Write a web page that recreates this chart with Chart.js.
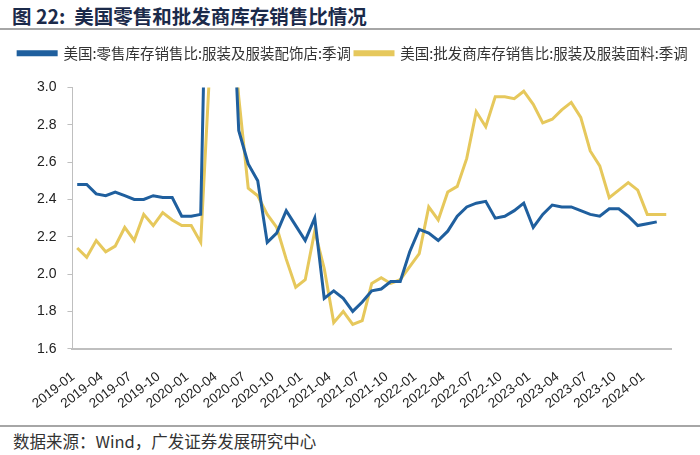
<!DOCTYPE html>
<html>
<head>
<meta charset="utf-8">
<script src="https://cdn.jsdelivr.net/npm/chart.js@4"></script>
<style>
  body { margin: 0; width: 700px; height: 455px; background: #fff; position: relative; overflow: hidden; }
  #title {
    position: absolute; left: 12px; top: 1px;
    font: bold 19.5px "Noto Sans CJK SC", sans-serif; color: #1b2a4a;
  }
  #topLine { position: absolute; left: 0; top: 28px; width: 700px; height: 2px; background: #a6a6a6; }
  #chartBox { position: absolute; left: 0; top: 32px; width: 700px; height: 390px; }
  #bottomLine { position: absolute; left: 0; top: 425px; width: 700px; height: 2px; background: #a6a6a6; }
  #source {
    position: absolute; left: 13px; top: 429px;
    font: 16.5px "Noto Sans CJK SC", sans-serif; color: #333;
  }
</style>
</head>
<body>
<div id="title">图 22:&nbsp; 美国零售和批发商库存销售比情况</div>
<div id="topLine"></div>
<div id="chartBox"><canvas id="chart"></canvas></div>
<div id="bottomLine"></div>
<div id="source">数据来源：Wind，广发证券发展研究中心</div>

<script>
  // Monthly, 2019-01 .. 2024-03
  const months = [
    "2019-01","2019-02","2019-03","2019-04","2019-05","2019-06","2019-07","2019-08","2019-09","2019-10","2019-11","2019-12",
    "2020-01","2020-02","2020-03","2020-04","2020-05","2020-06","2020-07","2020-08","2020-09","2020-10","2020-11","2020-12",
    "2021-01","2021-02","2021-03","2021-04","2021-05","2021-06","2021-07","2021-08","2021-09","2021-10","2021-11","2021-12",
    "2022-01","2022-02","2022-03","2022-04","2022-05","2022-06","2022-07","2022-08","2022-09","2022-10","2022-11","2022-12",
    "2023-01","2023-02","2023-03","2023-04","2023-05","2023-06","2023-07","2023-08","2023-09","2023-10","2023-11","2023-12",
    "2024-01","2024-02","2024-03"
  ];

  // 美国:零售库存销售比:服装及服装配饰店:季调
  const retailRatio = [
    2.48, 2.48, 2.43, 2.42, 2.44, 2.42, 2.40, 2.40, 2.42, 2.41, 2.41, 2.31,
    2.31, 2.32, 4.70, 12.0, 3.90, 2.77, 2.59, 2.50, 2.17, 2.22, 2.34, 2.26,
    2.18, 2.30, 1.87, 1.91, 1.87, 1.80, 1.85, 1.91, 1.92, 1.96, 1.96, 2.12,
    2.24, 2.22, 2.18, 2.23, 2.31, 2.36, 2.38, 2.39, 2.30, 2.31, 2.34, 2.38,
    2.25, 2.32, 2.37, 2.36, 2.36, 2.34, 2.32, 2.31, 2.35, 2.35, 2.31, 2.26,
    2.27, 2.28, null
  ];

  // 美国:批发商库存销售比:服装及服装面料:季调
  const wholesaleRatio = [
    2.14, 2.09, 2.18, 2.12, 2.15, 2.25, 2.18, 2.32, 2.26, 2.33, 2.29, 2.26,
    2.26, 2.17, 3.15, 4.50, 3.60, 2.95, 2.46, 2.42, 2.32, 2.25, 2.08, 1.93,
    1.97, 2.23, 2.03, 1.74, 1.80, 1.73, 1.75, 1.95, 1.98, 1.95, 1.97, 2.04,
    2.11, 2.36, 2.29, 2.44, 2.47, 2.62, 2.87, 2.79, 2.95, 2.95, 2.94, 2.98,
    2.91, 2.81, 2.83, 2.88, 2.92, 2.84, 2.66, 2.58, 2.41, 2.45, 2.49, 2.45,
    2.32, 2.32, 2.32
  ];

  const yTicks = [1.6, 1.8, 2.0, 2.2, 2.4, 2.6, 2.8, 3.0];

  const axisColor = "#bfbfbf";
  const numFont = "'Liberation Sans', Arial, sans-serif";

  // extra room between the legend and the plot
  const legendGap = {
    id: "legendGap",
    beforeInit(chart) {
      const fit = chart.legend.fit;
      chart.legend.fit = function () {
        fit.bind(chart.legend)();
        this.height += 17;
      };
    },
  };

  new Chart(document.getElementById("chart"), {
    type: "line",
    data: {
      labels: months,
      datasets: [
        {
          label: "美国:零售库存销售比:服装及服装配饰店:季调",
          data: retailRatio,
          borderColor: "#1f5f9e",
          backgroundColor: "#1f5f9e",
          borderWidth: 3,
          pointRadius: 0,
          tension: 0,
        },
        {
          label: "美国:批发商库存销售比:服装及服装面料:季调",
          data: wholesaleRatio,
          borderColor: "#e6c85c",
          backgroundColor: "#e6c85c",
          borderWidth: 3,
          pointRadius: 0,
          tension: 0,
        },
      ],
    },
    options: {
      responsive: true,
      maintainAspectRatio: false,
      animation: false,
      layout: { padding: { left: 6, right: 0, top: 10, bottom: 0 } },
      plugins: {
        legend: {
          display: true,
          position: "top",
          labels: {
            boxWidth: 38,
            boxHeight: 3,
            padding: 4,
            color: "#333",
            font: { family: "'Noto Sans CJK SC', sans-serif", size: 14.5 },
          },
        },
        tooltip: { enabled: false },
      },
      scales: {
        x: {
          type: "category",
          offset: true,
          grid: { display: false },
          border: { display: true, color: axisColor, width: 2 },
          afterFit: function (axis) {
            axis.height -= 2;
          },
          ticks: {
            autoSkip: false,
            maxRotation: 38,
            minRotation: 38,
            padding: 12,
            labelOffset: -4,
            color: "#222",
            font: { family: numFont, size: 13.5 },
            callback: function (value, index) {
              return index % 3 === 0 ? months[index] : null;
            },
          },
        },
        y: {
          min: 1.6,
          max: 3.0,
          afterBuildTicks: function (axis) {
            axis.ticks = yTicks.map((v) => ({ value: v }));
          },
          afterFit: function (axis) {
            axis.width += 20;
          },
          grid: {
            drawOnChartArea: false,
            drawTicks: true,
            tickLength: 5,
            color: axisColor,
          },
          border: { display: true, color: axisColor, width: 1 },
          ticks: {
            color: "#222",
            font: { family: numFont, size: 14 },
            padding: 11,
            callback: function (value) {
              return value.toFixed(1);
            },
          },
        },
        // empty right axis, only keeps a margin on the right of the plot
        yRight: {
          position: "right",
          display: true,
          grid: { display: false },
          border: { display: false },
          ticks: { display: false },
          afterFit: function (axis) {
            axis.width = 29;
          },
        },
      },
    },
    plugins: [legendGap],
  });
</script>
</body>
</html>
